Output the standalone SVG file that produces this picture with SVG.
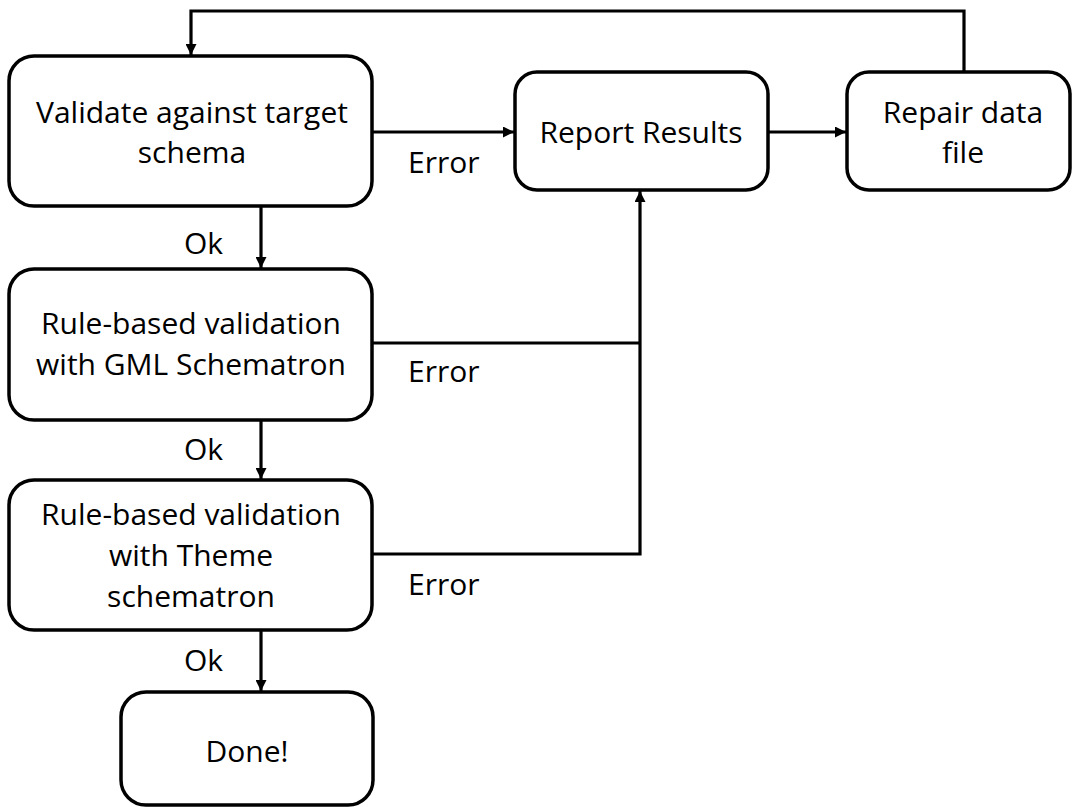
<svg xmlns="http://www.w3.org/2000/svg" width="1074" height="807" viewBox="0 0 1074 807">
  <style>
    .box { fill: #ffffff; stroke: #000000; stroke-width: 3.5; }
    .edge { fill: none; stroke: #000000; stroke-width: 3.2; }
    .label { font-family: "Open Sans", Lato, "Liberation Sans", sans-serif; font-size: 30px; fill: #000000; }
    .mid { text-anchor: middle; }
  </style>
  <defs>
    <marker id="arrow" viewBox="0 0 10 10" refX="10" refY="5" markerWidth="12" markerHeight="11" markerUnits="userSpaceOnUse" orient="auto">
      <path d="M0,0 L10,5 L0,10 Z" fill="#000000"/>
    </marker>
  </defs>
  <rect width="1074" height="807" fill="#ffffff"/>

  <g id="connectors">
    <!-- schema check to report -->
    <path class="edge" d="M372,132 L514,132" marker-end="url(#arrow)"/>
    <!-- report to repair -->
    <path class="edge" d="M768,132 L846,132" marker-end="url(#arrow)"/>
    <!-- repair back to schema check -->
    <path class="edge" d="M964,72 L964,11 L191,11 L191,55" marker-end="url(#arrow)"/>
    <!-- Ok chain -->
    <path class="edge" d="M261,206 L261,268" marker-end="url(#arrow)"/>
    <path class="edge" d="M261,420 L261,479" marker-end="url(#arrow)"/>
    <path class="edge" d="M261,630 L261,691" marker-end="url(#arrow)"/>
    <!-- schematron errors to report -->
    <path class="edge" d="M372,343 L640,343"/>
    <path class="edge" d="M372,554 L640,554 L640,191" marker-end="url(#arrow)"/>
    <text class="label" x="408" y="173">Error</text>
    <text class="label" x="408" y="382">Error</text>
    <text class="label" x="408" y="595">Error</text>
    <text class="label" x="184" y="254">Ok</text>
    <text class="label" x="184" y="460">Ok</text>
    <text class="label" x="184" y="671">Ok</text>
  </g>

  <g id="validate-schema">
    <rect class="box" x="9" y="56" width="363" height="150" rx="25"/>
    <text class="label mid" x="192" y="123">Validate against target</text>
    <text class="label mid" x="192" y="163">schema</text>
  </g>

  <g id="gml-schematron">
    <rect class="box" x="9" y="269" width="363" height="151" rx="25"/>
    <text class="label mid" x="191" y="334">Rule-based validation</text>
    <text class="label mid" x="191" y="375">with GML Schematron</text>
  </g>

  <g id="theme-schematron">
    <rect class="box" x="9" y="480" width="363" height="150" rx="25"/>
    <text class="label mid" x="191" y="525">Rule-based validation</text>
    <text class="label mid" x="191" y="566">with Theme</text>
    <text class="label mid" x="191" y="607">schematron</text>
  </g>

  <g id="done">
    <rect class="box" x="121" y="692" width="252" height="113" rx="25"/>
    <text class="label mid" x="247" y="762">Done!</text>
  </g>

  <g id="report-results">
    <rect class="box" x="515" y="72" width="253" height="118" rx="22"/>
    <text class="label mid" x="641" y="143">Report Results</text>
  </g>

  <g id="repair-data">
    <rect class="box" x="847" y="72" width="223" height="118" rx="22"/>
    <text class="label mid" x="963" y="123">Repair data</text>
    <text class="label mid" x="963" y="163">file</text>
  </g>
</svg>
